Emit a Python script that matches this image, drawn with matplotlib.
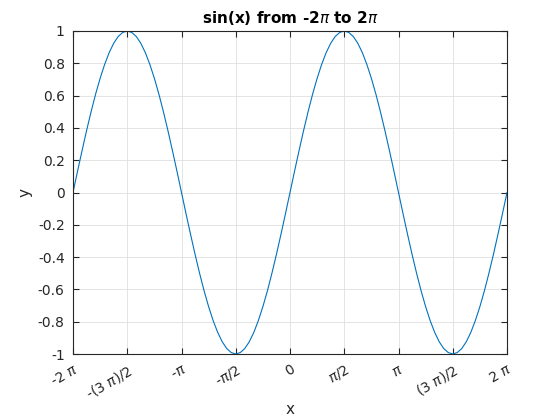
import numpy as np
import matplotlib.pyplot as plt

# sin(x), one sample every pi/24 from -2pi to 2pi
y_period = [0, .131, .259, .383, .5, .609, .707, .793, .866, .924, .966, .991, 1,
            .991, .966, .924, .866, .793, .707, .609, .5, .383, .259, .131,
            0, -.131, -.259, -.383, -.5, -.609, -.707, -.793, -.866, -.924, -.966, -.991, -1,
            -.991, -.966, -.924, -.866, -.793, -.707, -.609, -.5, -.383, -.259, -.131]
y_vals = y_period + y_period + [0]
x_vals = np.linspace(-2 * np.pi, 2 * np.pi, len(y_vals))

xtick_pos = np.array([-2, -1.5, -1, -0.5, 0, 0.5, 1, 1.5, 2]) * np.pi
xtick_labels = [r'-2 $\pi$', r'-(3 $\pi$)/2', r'-$\pi$', r'-$\pi$/2', '0',
                r'$\pi$/2', r'$\pi$', r'(3 $\pi$)/2', r'2 $\pi$']
ytick_pos = [-1, -0.8, -0.6, -0.4, -0.2, 0, 0.2, 0.4, 0.6, 0.8, 1]
ytick_labels = ['-1', '-0.8', '-0.6', '-0.4', '-0.2', '0', '0.2', '0.4', '0.6', '0.8', '1']

fig = plt.figure(figsize=(5.6, 4.2), dpi=100)
ax = fig.add_axes([73 / 560, 66 / 420, 434 / 560, 323 / 420])

ax.plot(x_vals, y_vals, color='#0072BD', lw=0.8)

ax.set_xlim(-2 * np.pi, 2 * np.pi)
ax.set_ylim(-1, 1)
ax.set_xticks(xtick_pos)
ax.set_xticklabels(xtick_labels, rotation=30, ha='right', rotation_mode='anchor')
ax.set_yticks(ytick_pos)
ax.set_yticklabels(ytick_labels)

dark = '#262626'
ax.tick_params(direction='in', top=True, right=True, length=4, width=0.8,
               colors=dark, labelsize=10, pad=6)
for s in ax.spines.values():
    s.set_color(dark)
    s.set_linewidth(0.8)
ax.grid(True, color='#dfdfdf', lw=0.6)
ax.set_axisbelow(True)

ax.set_title(r'sin(x) from -2$\pi$ to 2$\pi$', fontsize=11, fontweight='bold', pad=6)
ax.set_xlabel('x', fontsize=11, color=dark, labelpad=0)
ax.set_ylabel('y', fontsize=11, color=dark, labelpad=4)

fig.savefig('out.png', dpi=100)
